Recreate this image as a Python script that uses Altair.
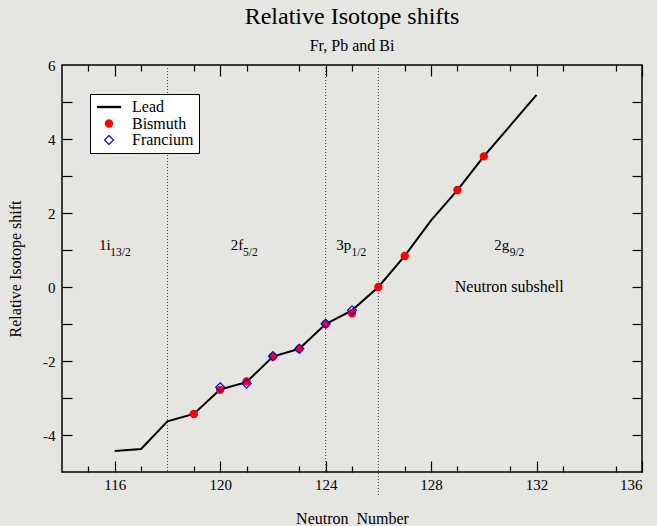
import altair as alt
import pandas as pd

FONT = "Liberation Serif"

# ---- data ----
N_lead = [116, 117, 118, 119, 120, 121, 122, 123, 124, 125, 126, 127, 128, 129, 130, 131, 132]
lead = [-4.43, -4.38, -3.63, -3.43, -2.77, -2.57, -1.88, -1.67, -1.00, -0.63, 0.0, 0.84, 1.80, 2.62, 3.53, 4.36, 5.19]
N_bi = [119, 120, 121, 122, 123, 124, 125, 126, 127, 129, 130]
bismuth = [-3.43, -2.78, -2.55, -1.88, -1.67, -1.00, -0.71, 0.0, 0.84, 2.62, 3.53]
N_fr = [120, 121, 122, 123, 124, 125]
francium = [-2.71, -2.61, -1.87, -1.67, -0.99, -0.63]

edge_N = [118, 124, 126]
edge_top = [6, 6, 6]
edge_bottom = [-5, -5, -5.65]

shell_main = ["1i", "2f", "3p", "2g"]
shell_sub = ["13/2", "5/2", "1/2", "9/2"]
shell_x = [115.4, 120.4, 124.4, 130.4]
shell_sub_x = [115.83, 120.87, 124.98, 130.98]
shell_y = [1.0, 1.0, 1.0, 1.0]
shell_sub_y = [0.85, 0.85, 0.85, 0.85]
note_text = ["Neutron subshell"]
note_x = [128.9]
note_y = [-0.13]

x_major = [116, 120, 124, 128, 132, 136]
x_minor = [115, 117, 119, 121, 123, 125, 127, 129, 131, 133, 135]
y_labels = [-4, -2, 0, 2, 4, 6]
y_ticks = [-4, -3, -2, -1, 0, 1, 2, 3, 4, 5]

series_names = ["Lead", "Bismuth", "Francium"]

# ---- tables ----
df_lead = pd.DataFrame({"N": N_lead, "shift": lead, "series": "Lead"})
df_bi = pd.DataFrame({"N": N_bi, "shift": bismuth, "series": "Bismuth"})
df_fr = pd.DataFrame({"N": N_fr, "shift": francium, "series": "Francium"})
df_pts = pd.concat([df_lead, df_bi, df_fr], ignore_index=True)
df_edges = pd.DataFrame({"N": edge_N, "top": edge_top, "bottom": edge_bottom})
df_main = pd.DataFrame({"x": shell_x, "y": shell_y, "t": shell_main})
df_sub = pd.DataFrame({"x": shell_sub_x, "y": shell_sub_y, "t": shell_sub})
df_note = pd.DataFrame({"x": note_x, "y": note_y, "t": note_text})

W, H = 580, 407
xs = alt.Scale(domain=[114, 136], nice=False, zero=False)
ys = alt.Scale(domain=[-5, 6], nice=False, zero=False)


def tick_axis(orient, offset, values, size):
    return alt.Axis(orient=orient, offset=offset, values=values, tickSize=size,
                    labels=False, domain=False, grid=False, title=None,
                    tickColor="black", tickWidth=1.2)


x_lab = alt.Axis(orient="bottom", values=x_major, ticks=False, tickSize=0, domain=False, grid=False,
                 labelExpr="toString(datum.value)", labelFont=FONT, labelFontSize=15,
                 labelColor="black", labelPadding=5,
                 title="Neutron\u00a0\u00a0Number", titleFont=FONT, titleFontSize=16,
                 titleFontWeight="normal", titleColor="black", titleBaseline="alphabetic",
                 titleX=W / 2, titleY=51)
y_lab = alt.Axis(orient="left", values=y_labels, ticks=False, tickSize=0, domain=False, grid=False,
                 labelExpr="toString(datum.value)", labelFont=FONT, labelFontSize=15,
                 labelColor="black", labelPadding=7,
                 title="Relative Isotope shift", titleFont=FONT, titleFontSize=16,
                 titleFontWeight="normal", titleColor="black", titleBaseline="alphabetic",
                 titleX=-42, titleY=H / 2, titleAngle=270)

rules = alt.Chart(df_edges).mark_rule(color="#444444", strokeDash=[1, 2], strokeWidth=1).encode(
    x=alt.X("N:Q", scale=xs, axis=x_lab),
    y=alt.Y("top:Q", scale=ys, axis=y_lab),
    y2="bottom:Q",
)

line = alt.Chart(df_lead).mark_line(color="black", strokeWidth=2).encode(
    x=alt.X("N:Q", scale=xs, axis=tick_axis("top", -H, x_major, 11)),
    y=alt.Y("shift:Q", scale=ys, axis=tick_axis("right", -W, y_ticks, 10)),
)

LINE = "M-2.3,-0.12L2.3,-0.12L2.3,0.12L-2.3,0.12Z"
CIRCLE = "M-0.72,0A0.72,0.72,0,1,1,0.72,0A0.72,0.72,0,1,1,-0.72,0Z"
DIAMOND = "M0,-0.9L0.9,0L0,0.9L-0.9,0Z"

leg = alt.Legend(title=None, orient="none", legendX=28, legendY=29,
                 fillColor="white", strokeColor="black", padding=5,
                 labelFont=FONT, labelFontSize=16, labelColor="black",
                 symbolOffset=6, labelOffset=15, rowPadding=0.5, symbolSize=100,
                 symbolOpacity=1, symbolStrokeWidth=1.2, labelLimit=200)

points = alt.Chart(df_pts).mark_point(size=100, strokeWidth=1.2).encode(
    x=alt.X("N:Q", scale=xs, axis=tick_axis("top", -H, x_minor, 6)),
    y=alt.Y("shift:Q", scale=ys, axis=tick_axis("left", -W, y_ticks, 10)),
    shape=alt.Shape("series:N", scale=alt.Scale(domain=series_names, range=[LINE, CIRCLE, DIAMOND]), legend=leg),
    stroke=alt.Stroke("series:N", scale=alt.Scale(domain=series_names, range=["black", "#ff0000", "#0000ff"]), legend=leg),
    fill=alt.Fill("series:N", scale=alt.Scale(domain=series_names, range=["black", "#ff0000", "transparent"]), legend=leg),
    opacity=alt.condition(alt.datum.series == "Lead", alt.value(0), alt.value(1)),
)

main_txt = alt.Chart(df_main).mark_text(align="left", baseline="alphabetic", font=FONT,
                                        fontSize=15, color="black").encode(
    x=alt.X("x:Q", scale=xs, axis=tick_axis("bottom", -H, x_major, 11)),
    y=alt.Y("y:Q", scale=ys, axis=None),
    text="t:N",
)

sub_txt = alt.Chart(df_sub).mark_text(align="left", baseline="alphabetic", font=FONT,
                                      fontSize=11.5, color="black").encode(
    x=alt.X("x:Q", scale=xs, axis=tick_axis("bottom", -H, x_minor, 6)),
    y=alt.Y("y:Q", scale=ys, axis=None),
    text="t:N",
)

note = alt.Chart(df_note).mark_text(align="left", baseline="alphabetic", font=FONT,
                                    fontSize=16, color="black").encode(
    x=alt.X("x:Q", scale=xs, axis=None),
    y=alt.Y("y:Q", scale=ys, axis=None),
    text="t:N",
)

chart = alt.layer(rules, line, points, main_txt, sub_txt, note).resolve_axis(
    x="independent", y="independent"
).properties(
    width=W, height=H,
    padding={"left": 62, "top": 65, "right": 15, "bottom": 54},
    autosize=alt.AutoSizeParams(type="none"),
    background="#e5e5e1",
    title=alt.TitleParams(text="Relative Isotope shifts", subtitle="Fr, Pb and Bi",
                          font=FONT, fontSize=24, fontWeight="normal", color="black",
                          subtitleFont=FONT, subtitleFontSize=16, subtitleColor="black",
                          anchor="middle", offset=4, subtitlePadding=9),
).configure_view(stroke="black", strokeWidth=1.5, fill="#e5e5e1")

chart.save("out.html", embed_options={"renderer": "svg", "actions": False})
